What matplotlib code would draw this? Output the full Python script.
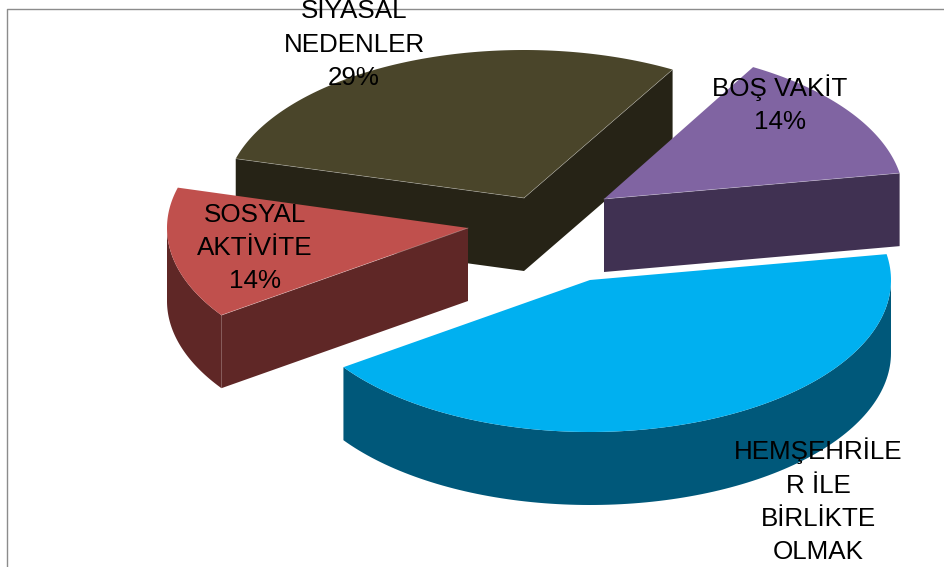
"""
Exploded 3D pie, drawn by hand as top faces and extruded sides.
"""
import numpy as np
import matplotlib.pyplot as plt
import matplotlib

matplotlib.rcParams['font.family'] = ['Liberation Sans', 'DejaVu Sans']

# clockwise from the start angle
categories = ["BOŞ VAKİT", "HEMŞEHRİLE", "SOSYAL AKTİVİTE", "SİYASAL NEDENLER"]
values = [14, 43, 14, 29]

label_texts = ["BOŞ VAKİT\n14%", "HEMŞEHRİLE\nR İLE\nBİRLİKTE\nOLMAK",
               "SOSYAL\nAKTİVİTE\n14%", "SİYASAL\nNEDENLER\n29%"]
label_x = [780, 818, 255, 354]
label_y = [104.5, 501, 248, 44.5]

top_colors = ["#8064A2", "#00B0F0", "#C0504D", "#4A452A"]
side_colors = ["#403152", "#00587A", "#5F2726", "#262316"]
apex_x = [604, 590, 468, 524]
apex_y = [199, 280, 228, 198]
# back slice is a bit smaller, the original has some perspective
radius_x = [300, 301, 301, 299]
radius_y = [152, 152, 152, 148]

START_ANGLE = 60.2
DEPTH = 73


def arc(idx, a1, a2, n=120):
    t = np.radians(np.linspace(a1, a2, n))
    return (apex_x[idx] + radius_x[idx] * np.cos(t),
            apex_y[idx] - radius_y[idx] * np.sin(t))


def extrude(ax, xs, ys, color):
    px = np.concatenate([xs, xs[::-1]])
    py = np.concatenate([ys, ys[::-1] + DEPTH])
    ax.fill(px, py, color=color, lw=0)


def cut_face(ax, idx, angle):
    x, y = arc(idx, angle, angle, 1)
    xs = np.array([apex_x[idx], x[0]])
    ys = np.array([apex_y[idx], y[0]])
    extrude(ax, xs, ys, side_colors[idx])
    return xs, ys


def draw_slice(ax, idx, a1, a2):
    edges = []
    # faces pointing at the viewer, depends on the slice
    if idx == 3:
        edges.append(cut_face(ax, idx, a1))
        edges.append(cut_face(ax, idx, a2))
    elif idx == 0:
        edges.append(cut_face(ax, idx, a2))
    elif idx == 2:
        edges.append(cut_face(ax, idx, a1))
        rx, ry = arc(idx, a1, -180)
        extrude(ax, rx, ry, side_colors[idx])
    else:
        rx, ry = arc(idx, 0, a2)
        extrude(ax, rx, ry, side_colors[idx])

    xs, ys = arc(idx, a1, a2)
    ax.fill(np.r_[apex_x[idx], xs], np.r_[apex_y[idx], ys],
            color=top_colors[idx], lw=0)
    for ex, ey in edges:
        ax.plot(ex, ey, color="white", lw=0.5, alpha=0.35)


def main():
    fig = plt.figure(figsize=(9.45, 5.67), dpi=100)
    ax = fig.add_axes([0, 0, 1, 1])
    ax.set_xlim(0, 945)
    ax.set_ylim(567, 0)
    ax.axis("off")

    # chart area border, only top and left fall inside the picture
    ax.plot([6.5, 6.5, 945], [567, 8.5, 8.5], color="#8c8c8c", lw=1)

    spans = np.array(values) / sum(values) * 360
    ends = START_ANGLE - np.cumsum(spans)
    starts = ends + spans

    for idx in [3, 0, 2, 1]:
        draw_slice(ax, idx, starts[idx], ends[idx])

    for txt, x, y in zip(label_texts, label_x, label_y):
        ax.text(x, y, txt, ha="center", va="center", fontsize=18.7,
                linespacing=1.49, color="black", clip_on=False)

    fig.savefig("out.png", dpi=100)
    plt.close(fig)


if __name__ == "__main__":
    main()
